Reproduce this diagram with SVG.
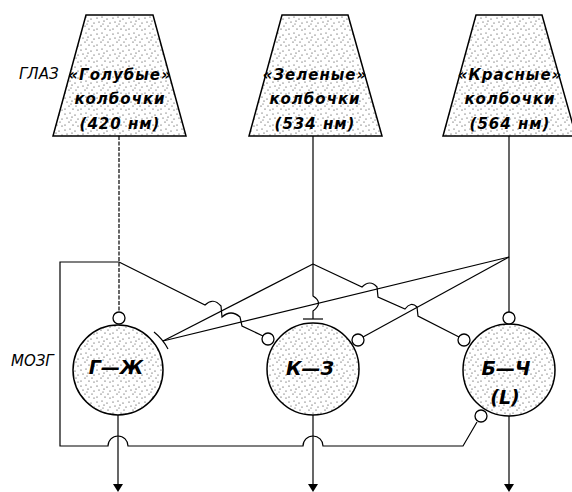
<svg xmlns="http://www.w3.org/2000/svg" width="572" height="492" viewBox="0 0 572 492">
<defs>
<pattern id="stip" width="16" height="16" patternUnits="userSpaceOnUse">
<rect width="16" height="16" fill="#fff"/>
<g fill="#222">
<circle cx="1" cy="2" r="0.6"/><circle cx="6" cy="1" r="0.55"/><circle cx="11" cy="3" r="0.6"/><circle cx="14" cy="7" r="0.55"/>
<circle cx="3" cy="6" r="0.55"/><circle cx="8" cy="5" r="0.6"/><circle cx="12" cy="10" r="0.55"/><circle cx="5" cy="10" r="0.6"/>
<circle cx="1" cy="13" r="0.55"/><circle cx="9" cy="13" r="0.6"/><circle cx="14" cy="14" r="0.55"/><circle cx="7" cy="8" r="0.5"/>
</g>
</pattern>
</defs>
<style>
.cone{fill:url(#stip);stroke:#000;stroke-width:1.5}
.cell{fill:url(#stip);stroke:#000;stroke-width:1.5}
.syn{fill:#fff;stroke:#000;stroke-width:1.3}
.ln{fill:none;stroke:#000;stroke-width:1.2}
.ah{fill:#000}
.t{font-family:"DejaVu Sans","Liberation Sans",sans-serif;font-style:italic;fill:#000}
.ct{font-size:15px;letter-spacing:1px;text-anchor:middle;font-weight:600}
.lab{font-size:15px}
.nt{font-size:19px;text-anchor:middle;font-weight:bold}
</style>

<text class="t lab" x="19" y="79">ГЛАЗ</text>
<text class="t lab" x="11" y="366">МОЗГ</text>

<g id="cone-s">
<polygon class="cone" points="86,15 153,15 186,136 53,136"/>
<text class="t ct" x="120" y="80">«Голубые»</text>
<text class="t ct" x="120" y="104">колбочки</text>
<text class="t ct" x="120" y="129">(420  нм)</text>
</g>
<g id="cone-m">
<polygon class="cone" points="282,15 348,15 382,136 249,136"/>
<text class="t ct" x="315" y="80">«Зеленые»</text>
<text class="t ct" x="315" y="104">колбочки</text>
<text class="t ct" x="315" y="129">(534  нм)</text>
</g>
<g id="cone-l">
<polygon class="cone" points="476,15 542,15 576,136 443,136"/>
<text class="t ct" x="510" y="80">«Красные»</text>
<text class="t ct" x="510" y="104">колбочки</text>
<text class="t ct" x="510" y="129">(564  нм)</text>
</g>

<g id="connectors">
<path class="ln" d="M119,136 L119,312" stroke-dasharray="4,1.5"/>
<path class="ln" d="M313,136 L313,296 Q324,303 313,311 L313,319"/>
<path class="ln" d="M303,319 L323,319"/>
<path class="ln" d="M509,136 L509,312"/>
<path class="ln" d="M119,262 L60,262 L60,446 L108,446 A10,10 0 0 1 128,446 L303,446 A10,10 0 0 1 323,446 L463,446 L477,422"/>
<path class="ln" d="M119,262 L205,305 Q213,297 221,306 L222,317 Q231,309 240,317 L242,326 L263,336"/>
<path class="ln" d="M313,264 L163,341"/>
<path class="ln" d="M509,257 L163,341"/>
<path class="ln" d="M509,257 L363,337"/>
<path class="ln" d="M313,264 L362,287 Q370,279 377,287 L378,297 L405,309 Q411,301 417,307 L418,316 L459,337"/>
<path class="ln" d="M154,332 A53,53 0 0 1 168,349"/>
<path class="ln" d="M118,415 L118,485"/>
<path class="ln" d="M313,415 L313,485"/>
<path class="ln" d="M509,416 L509,485"/>
<polygon class="ah" points="113,484 123,484 118,492"/>
<polygon class="ah" points="308,484 318,484 313,492"/>
<polygon class="ah" points="504,484 514,484 509,492"/>
</g>

<g id="cell-gy">
<circle class="cell" cx="118" cy="370" r="45"/>
<text class="t nt" x="116" y="374">Г—Ж</text>
<circle class="syn" cx="119" cy="318" r="6"/>
</g>
<g id="cell-rg">
<circle class="cell" cx="313" cy="369" r="46"/>
<text class="t nt" x="310" y="375">К—З</text>
<circle class="syn" cx="268" cy="339" r="6"/>
<circle class="syn" cx="358" cy="340" r="6"/>
</g>
<g id="cell-bw">
<circle class="cell" cx="509" cy="370" r="46"/>
<text class="t nt" x="506" y="375">Б—Ч</text>
<text class="t nt" x="505" y="404">(L)</text>
<circle class="syn" cx="509" cy="318" r="6"/>
<circle class="syn" cx="464" cy="340" r="6"/>
<circle class="syn" cx="481" cy="416" r="6"/>
</g>
</svg>
